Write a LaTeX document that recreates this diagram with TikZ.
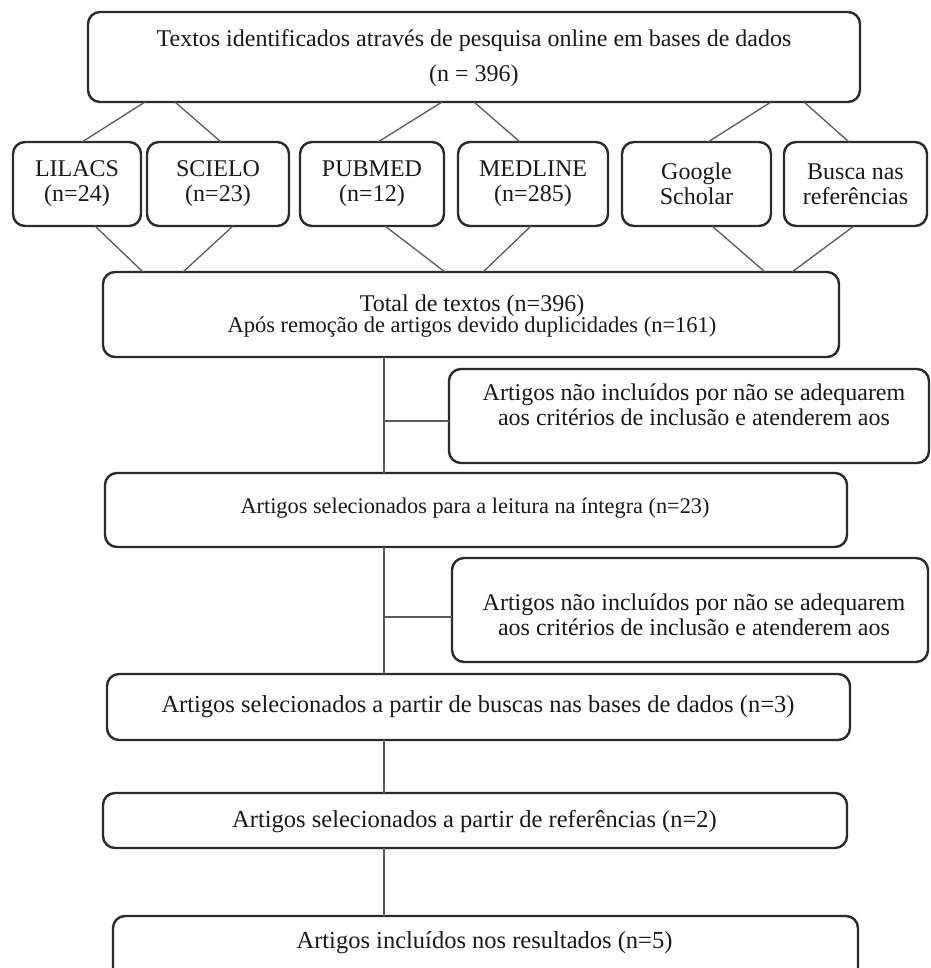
\documentclass[tikz,border=0pt]{standalone}
\usepackage{fontspec}
\setmainfont{Liberation Serif}
\definecolor{boxline}{HTML}{2B2B2B}
\definecolor{connline}{HTML}{5A5A5A}
\newcommand{\fsz}[2]{\fontsize{#1pt}{#2pt}\selectfont}
\begin{document}
\begin{tikzpicture}[x=1pt,y=-1pt,
  box/.style={draw=boxline, line width=2.4pt, rounded corners=12pt, fill=white,
    inner sep=0pt, outer sep=0pt},
  txt/.style={inner sep=0pt, align=center, text=black!90},
  conn/.style={draw=connline, line width=1.3pt}]
\useasboundingbox (0,0) rectangle (930,968);
\clip (0,0) rectangle (930,968);

% connectors first (below boxes)
% boxes
\node[box, minimum width=772pt, minimum height=90pt] (top) at (474,57) {};
\node[box, minimum width=128pt, minimum height=84pt] (lilacs) at (77,184) {};
\node[box, minimum width=142pt, minimum height=84pt] (scielo) at (218,184) {};
\node[box, minimum width=144pt, minimum height=84pt] (pubmed) at (372,184) {};
\node[box, minimum width=150pt, minimum height=84pt] (medline) at (533,184) {};
\node[box, minimum width=149pt, minimum height=84pt] (google) at (696.5,184) {};
\node[box, minimum width=143pt, minimum height=84pt] (busca) at (855.5,184) {};
\node[box, minimum width=736pt, minimum height=85pt] (total) at (471,314.5) {};
\node[box, minimum width=480pt, minimum height=94pt] (side1) at (689,416) {};
\node[box, minimum width=742pt, minimum height=74pt] (leitura) at (476,510) {};
\node[box, minimum width=476pt, minimum height=104pt] (side2) at (690,610) {};
\node[box, minimum width=743pt, minimum height=66pt] (buscas) at (478.5,707) {};
\node[box, minimum width=744pt, minimum height=55pt] (refs) at (475,820.5) {};
\node[box, minimum width=745pt, minimum height=74pt] (result) at (485.5,953) {};

% texts
\node[txt, font=\fsz{24}{35}] (ttop) at (474,58) {Textos identificados através de pesquisa online em bases de dados\\(n = 396)};
\node[txt, font=\fsz{24}{25}] (tlilacs) at (lilacs) {LILACS\\(n=24)};
\node[txt, font=\fsz{24}{25}] (tscielo) at (scielo) {SCIELO\\(n=23)};
\node[txt, font=\fsz{24}{25}] (tpubmed) at (pubmed) {PUBMED\\(n=12)};
\node[txt, font=\fsz{24}{25}] (tmedline) at (medline) {MEDLINE\\(n=285)};
\node[txt, font=\fsz{24}{25}] (tgoogle) at (google) {Google\\Scholar};
\node[txt, font=\fsz{24}{25}] (tbusca) at (busca) {Busca nas\\referências};
\node[txt] (ttotal) at (472,316) {{\fsz{24}{25}Total de textos (n=396)}\\{\fsz{22.5}{25}Após remoção de artigos devido duplicidades (n=161)}};
\node[txt, font=\fsz{24}{25}] (tside1) at (694,405) {Artigos não incluídos por não se adequarem\\aos critérios de inclusão e atenderem aos};
\node[txt, font=\fsz{22.3}{25}] (tleitura) at (475,508) {Artigos selecionados para a leitura na íntegra (n=23)};
\node[txt, font=\fsz{24}{25}] (tside2) at (694,615) {Artigos não incluídos por não se adequarem\\aos critérios de inclusão e atenderem aos};
\node[txt, font=\fsz{24.5}{25}] (tbuscas) at (478,707) {Artigos selecionados a partir de buscas nas bases de dados (n=3)};
\node[txt, font=\fsz{24.5}{25}] (trefs) at (474.5,822) {Artigos selecionados a partir de referências (n=2)};
\node[txt, font=\fsz{24.5}{25}] (tresult) at (484.5,943) {Artigos incluídos nos resultados (n=5)};

% top box to databases
\draw[conn] ([xshift=57pt]top.south west) -- ([xshift=69pt]lilacs.north west);
\draw[conn] ([xshift=87pt]top.south west) -- ([xshift=74pt]scielo.north west);
\draw[conn] ([xshift=354pt]top.south west) -- ([xshift=78pt]pubmed.north west);
\draw[conn] ([xshift=386pt]top.south west) -- ([xshift=62pt]medline.north west);
\draw[conn] ([xshift=683pt]top.south west) -- ([xshift=86pt]google.north west);
\draw[conn] ([xshift=716pt]top.south west) -- ([xshift=65pt]busca.north west);
% databases to total
\draw[conn] ([xshift=82pt]lilacs.south west) -- ([xshift=40pt]total.north west);
\draw[conn] ([xshift=86pt]scielo.south west) -- ([xshift=80pt]total.north west);
\draw[conn] ([xshift=85pt]pubmed.south west) -- ([xshift=342pt]total.north west);
\draw[conn] ([xshift=73pt]medline.south west) -- ([xshift=380pt]total.north west);
\draw[conn] ([xshift=90pt]google.south west) -- ([xshift=662pt]total.north west);
\draw[conn] ([xshift=70pt]busca.south west) -- ([xshift=689pt]total.north west);
% spine
\draw[conn] ([xshift=281pt]total.south west) -- ([xshift=279pt]leitura.north west);
\draw[conn] ([xshift=279pt]leitura.south west) -- ([xshift=277pt]buscas.north west);
\draw[conn] ([xshift=277pt]buscas.south west) -- ([xshift=281pt]refs.north west);
\draw[conn] ([xshift=281pt]refs.south west) -- ([xshift=271pt]result.north west);
\coordinate (j1) at (384,421);
\coordinate (j2) at (384,617);
\draw[conn] (j1) -- (j1 -| side1.west);
\draw[conn] (j2) -- (j2 -| side2.west);
\end{tikzpicture}
\end{document}
